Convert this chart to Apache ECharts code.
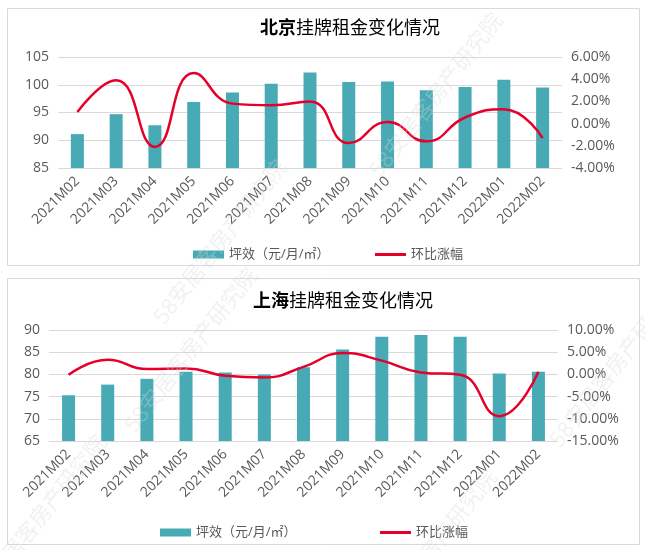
<!DOCTYPE html>
<html>
<head>
<meta charset="utf-8">
<script src="https://cdn.jsdelivr.net/npm/echarts@6/dist/echarts.min.js"></script>
<style>
html,body{margin:0;padding:0;background:#fff;}
#c{width:645px;height:550px;}
</style>
</head>
<body>
<div id="c"></div>
<script>
var categories = ['2021M02','2021M03','2021M04','2021M05','2021M06','2021M07','2021M08','2021M09','2021M10','2021M11','2021M12','2022M01','2022M02'];
var bjRent = [91.1, 94.7, 92.7, 96.9, 98.6, 100.2, 102.2, 100.5, 100.6, 99.0, 99.6, 100.9, 99.5];
var bjChange = [1.05, 3.9, -2.1, 4.55, 1.8, 1.65, 2.0, -1.75, 0.15, -1.6, 0.55, 1.3, -1.3];
var shRent = [75.3, 77.7, 79.0, 80.6, 80.4, 80.0, 81.6, 85.6, 88.5, 88.9, 88.5, 80.2, 80.6];
var shChange = [-0.1, 3.3, 1.2, 1.35, -0.3, -0.7, 1.7, 4.8, 3.1, 0.45, -0.1, -9.4, 0.6];
var barName = '坪效（元/月/㎡）';
var lineName = '环比涨幅';

var FONT = "'Open Sans', 'Noto Sans CJK SC', sans-serif";
var TXT = '#595959';
var BAR = '#47AAB4';
var LINE = '#E4002B';
var GRID = '#D9D9D9';

function pct(v){ return v.toFixed(2) + '%'; }

function xAxis(gi){
  return {
    type:'category', gridIndex:gi, data:categories,
    axisLine:{show:false}, axisTick:{show:false},
    axisLabel:{rotate:45, interval:0, fontSize:14, color:TXT, fontFamily:FONT, margin:11}
  };
}
function leftAxis(gi,min,max){
  return {
    type:'value', gridIndex:gi, min:min, max:max, interval:5, position:'left',
    axisLine:{show:false}, axisTick:{show:false},
    axisLabel:{fontSize:14, color:TXT, fontFamily:FONT, margin:9},
    splitLine:{show:true, lineStyle:{color:GRID, width:1}}
  };
}
function rightAxis(gi,min,max,interval){
  return {
    type:'value', gridIndex:gi, min:min, max:max, interval:interval, position:'right',
    axisLine:{show:false}, axisTick:{show:false},
    axisLabel:{fontSize:14, color:TXT, fontFamily:FONT, margin:9, formatter:pct},
    splitLine:{show:false}
  };
}
function titleOf(bold, rest, left, top){
  return {
    text:'{b|' + bold + '}{n|' + rest + '}', left:left, top:top,
    textStyle:{rich:{
      b:{fontSize:18, fontWeight:'bold', color:'#000', fontFamily:FONT},
      n:{fontSize:18, fontWeight:'normal', color:'#000', fontFamily:FONT}
    }}
  };
}
function legendOf(name, left, top, h, icon){
  return {
    left:left, top:top, itemWidth:31, itemHeight:h,
    textStyle:{fontSize:13, color:TXT, fontFamily:FONT},
    data:[{name:name, icon:icon}]
  };
}
function wm(x,y){
  return {
    type:'text', x:x, y:y, rotation:52*Math.PI/180, silent:true, z:100,
    style:{text:'58安居客房产研究院', fontSize:22, fill:'rgba(215,215,215,0.35)', fontFamily:FONT, verticalAlign:'middle'}
  };
}

var chart = echarts.init(document.getElementById('c'), null, {renderer:'canvas'});
chart.setOption({
  backgroundColor:'#fff',
  animation:false,
  title:[ titleOf('北京','挂牌租金变化情况',255,15), titleOf('上海','挂牌租金变化情况',248,288) ],
  legend:[
    legendOf(barName,188,243,8,'rect'), legendOf(lineName,370,243,3,'rect'),
    legendOf(barName,155,521,8,'rect'), legendOf(lineName,375,521,3,'rect')
  ],
  grid:[
    {left:58, right:83, top:57, height:111},
    {left:49, right:87, top:330, height:111}
  ],
  xAxis:[ xAxis(0), xAxis(1) ],
  yAxis:[ leftAxis(0,85,105), rightAxis(0,-4,6,2), leftAxis(1,65,90), rightAxis(1,-15,10,5) ],
  graphic:[
    {type:'rect', shape:{x:7.5,y:8.5,width:632,height:257}, style:{fill:'none', stroke:'#D9D9D9', lineWidth:1}, z:-1, silent:true},
    {type:'rect', shape:{x:7.5,y:278.5,width:632,height:266}, style:{fill:'none', stroke:'#D9D9D9', lineWidth:1}, z:-1, silent:true},
    wm(375,175), wm(159,322), wm(130,430), wm(555,445), wm(-21,597), wm(369,632)
  ],
  series:[
    {name:barName, type:'bar', xAxisIndex:0, yAxisIndex:0, data:bjRent, barWidth:13,
     itemStyle:{color:BAR}},
    {name:lineName, type:'line', xAxisIndex:0, yAxisIndex:1, data:bjChange, smooth:0.5, symbol:'none',
     lineStyle:{color:LINE, width:2.5}, itemStyle:{color:LINE}},
    {name:barName, type:'bar', xAxisIndex:1, yAxisIndex:2, data:shRent, barWidth:13,
     itemStyle:{color:BAR}},
    {name:lineName, type:'line', xAxisIndex:1, yAxisIndex:3, data:shChange, smooth:0.5, symbol:'none',
     lineStyle:{color:LINE, width:2.5}, itemStyle:{color:LINE}}
  ]
});
</script>
</body>
</html>
